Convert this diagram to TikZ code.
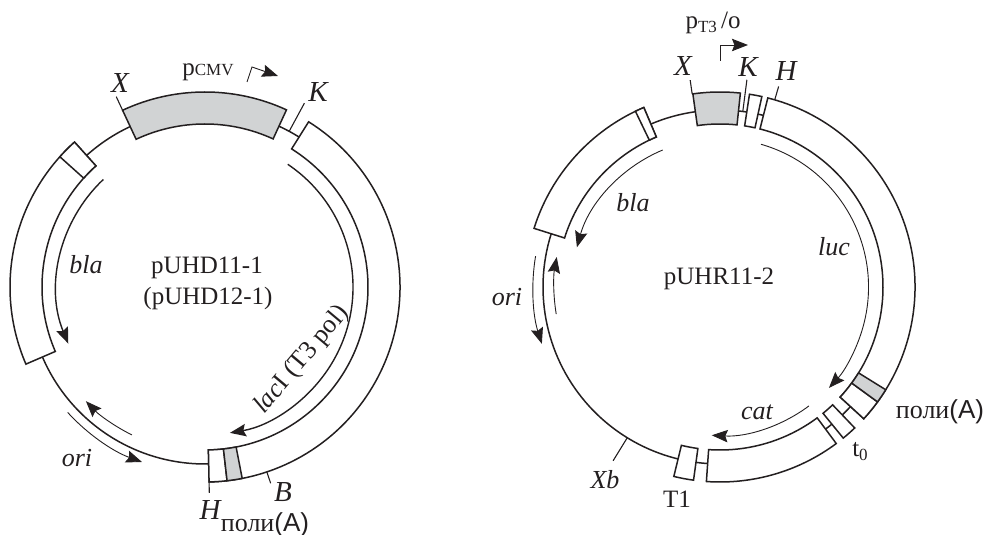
\documentclass[tikz,border=0pt]{standalone}
\usepackage{fontspec}
\setmainfont{Liberation Serif}
\setsansfont{Liberation Sans}
\usetikzlibrary{arrows.meta}
\definecolor{ink}{HTML}{231F20}
\definecolor{insert}{HTML}{D1D3D4}
% one block of the ring: [fill]{from}{to}
\newcommand{\ringblock}[3][white]{%
  \draw[ringline,fill=#1] (#2:163) arc[start angle=#2,end angle=#3,radius=163]
    -- (#3:195) arc[start angle=#3,end angle=#2,radius=195] -- cycle;}
% plain arc at a radius: [style]{radius}{from}{to}
\newcommand{\ringarc}[4][ringline]{%
  \draw[#1] (#3:#2) arc[start angle=#3,end angle=#4,radius=#2];}
\begin{document}
\begin{tikzpicture}[x=0.5pt,y=0.5pt,>={Stealth[length=8pt,width=6.2pt,inset=1.2pt]},
  ringline/.style={draw=ink,line width=0.75pt},
  geneline/.style={draw=ink,line width=0.7pt,->},
  thinline/.style={draw=ink,line width=0.45pt,->},
  tickline/.style={draw=ink,line width=0.55pt},
  lbl/.style={text=ink,inner sep=0pt,font=\fontsize{12.5}{14}\selectfont},
  site/.style={lbl,font=\fontsize{13}{14}\selectfont\itshape},
  sitecap/.style={lbl,font=\fontsize{14.5}{16}\selectfont\itshape}]
  \useasboundingbox (0,0) rectangle (986,535);
  % pUHD
  \begin{scope}[shift={(205,248)}]
    \ringarc{177}{115}{132}
    \ringarc{177}{203.3}{271.2}
    \ringarc{177}{57.9}{65.3}
    \ringblock[insert]{65.3}{115}
    \ringblock{132}{203.3}
    \ringblock{132}{138.1}
    \ringblock{271.2}{417.9}
    \ringblock{271.2}{276.5}
    \ringblock[insert]{276.5}{281}
    \draw[tickline] (115:195) -- (115:210);
    \draw[tickline] (61.6:177) -- (61.6:209);
    \draw[tickline] (271.2:195) -- (271.2:206);
    \draw[tickline] (288.5:195) -- (288.5:207);
    \ringarc[geneline]{148}{133.4}{202.5}
    \ringarc[geneline]{148}{56}{-80.3}
    \ringarc[thinline]{165}{243.7}{223.8}
    \ringarc[thinline]{186}{222.4}{250.2}
  \end{scope}
  \draw[thinline] (247,453) -- (252,468) -- (278,459);
  \node[lbl] (cmv) at (208,463) {p{\fontsize{8.5}{10}\selectfont CMV}};
  \node[sitecap] (x1) at (120,452) {X};
  \node[sitecap] (k1) at (318,443) {K};
  \node[sitecap] (h1) at (210,25) {H};
  \node[sitecap] (b1) at (283,43) {B};
  \node[lbl,font=\fontsize{13}{14}\selectfont] (poly1) at (265,10) {поли{\sffamily(A)}};
  \node[site] (bla1) at (86,270) {bla};
  \node[site] (ori1) at (77,77) {ori};
  \node[lbl] (name1) at (207,267) {pUHD11-1};
  \node[lbl] (name1b) at (208,237) {(pUHD12-1)};
  \node[lbl,font=\fontsize{13}{14}\selectfont,rotate=50] (lac1) at (302,175) {\textit{lac}I (T3 pol)};
  % pUHR
  \begin{scope}[shift={(720,248)}]
    \ringarc{177}{75.8}{84}
    \ringarc{177}{98}{113}
    \ringarc{177}{162.5}{256.3}
    \ringarc{177}{262.2}{266}
    \ringarc{177}{306.6}{309.2}
    \ringarc{177}{313.7}{317.5}
    \ringblock[insert]{84}{98}
    \ringblock{77.6}{81.3}
    \ringblock{113}{162.5}
    \ringblock{113}{115.7}
    \ringblock{256.3}{262.2}
    \ringblock{266}{306.6}
    \ringblock{309.2}{313.7}
    \ringblock{317.5}{435.8}
    \ringblock{317.5}{323.9}
    \ringblock[insert]{323.9}{328.2}
    \draw[tickline] (98.2:195) -- (98.2:209);
    \draw[tickline] (82.6:177) -- (82.6:209);
    \draw[tickline] (73.7:195) -- (73.7:209);
    \draw[tickline] (238.4:177) -- (238.4:204);
    \ringarc[thinline]{148.5}{112.7}{164.5}
    \ringarc[thinline]{148.5}{74}{-42.8}
    \ringarc[thinline]{148.5}{306.8}{266.8}
    \ringarc[thinline]{166}{189.4}{169.6}
    \ringarc[thinline]{187}{170.5}{197.7}
  \end{scope}
  \draw[thinline] (720,474) -- (720,490) -- (748,490);
  \node[lbl] (t3) at (713,512) {p\raisebox{-2pt}{\fontsize{8.5}{10}\selectfont T3}\,/o};
  \node[sitecap] (x2) at (683,469) {X};
  \node[sitecap] (k2) at (748,468) {K};
  \node[sitecap] (h2) at (786,464) {H};
  \node[site] (bla2) at (633,332) {bla};
  \node[site] (ori2) at (507,238) {ori};
  \node[site] (luc2) at (834,288) {luc};
  \node[site] (cat2) at (757,123) {cat};
  \node[site] (xb2) at (605,55) {Xb};
  \node[lbl] (name2) at (719,256) {pUHR11-2};
  \node[lbl,font=\fontsize{13}{14}\selectfont] (poly2) at (940,123) {поли{\sffamily(A)}};
  \node[lbl] (t0) at (860,83) {t\raisebox{-2pt}{\fontsize{8.5}{10}\selectfont 0}};
  \node[lbl] (t1) at (677,36) {T1};
\end{tikzpicture}
\end{document}
